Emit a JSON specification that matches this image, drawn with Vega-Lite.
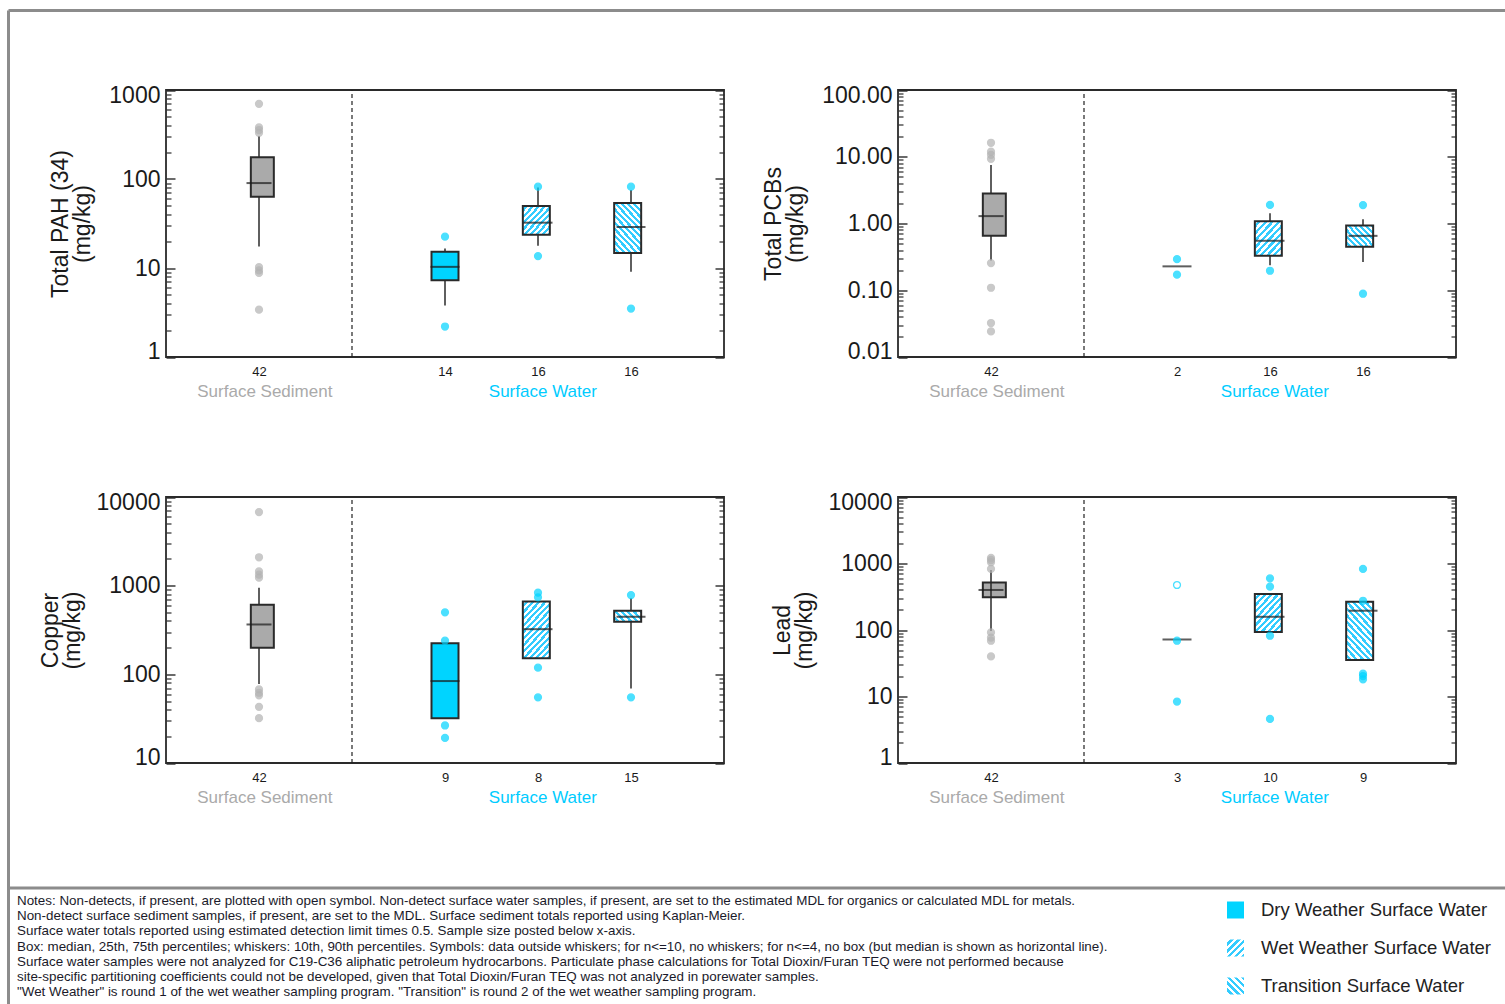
{
"$schema":"https://vega.github.io/schema/vega-lite/v6.json",
"width":1496.5,"height":993.5,
"padding":{"left":8.5,"top":10.5,"right":0,"bottom":0},
"autosize":{"type":"none"},
"config":{"view":{"stroke":null},"font":"Liberation Sans","axis":{"labelFont":"Liberation Sans","titleFont":"Liberation Sans","titleFontWeight":"normal","labelColor":"#1a1a1a","titleColor":"#1a1a1a","grid":false}},
"resolve":{"scale":{"x":"independent","y":"independent","size":"independent"}},
"datasets":{
"boxes":[
{"panel":"PAH","grp":"Sediment","pos":1,"n":42,"q1":63,"med":90,"q3":175,"lo":17.4,"hi":304},
{"panel":"PAH","grp":"Dry","pos":3,"n":14,"q1":7.3,"med":10.3,"q3":15.2,"lo":3.8,"hi":16.6},
{"panel":"PAH","grp":"Wet","pos":4,"n":16,"q1":23.7,"med":32.3,"q3":49.8,"lo":17.8,"hi":80},
{"panel":"PAH","grp":"Transition","pos":5,"n":16,"q1":14.7,"med":28.9,"q3":53.8,"lo":9.1,"hi":75},
{"panel":"PCB","grp":"Sediment","pos":1,"n":42,"q1":0.653,"med":1.29,"q3":2.81,"lo":0.28,"hi":7.5},
{"panel":"PCB","grp":"Dry","pos":3,"n":2,"q1":null,"med":0.228,"q3":null,"lo":null,"hi":null},
{"panel":"PCB","grp":"Wet","pos":4,"n":16,"q1":0.328,"med":0.551,"q3":1.08,"lo":0.236,"hi":1.43},
{"panel":"PCB","grp":"Transition","pos":5,"n":16,"q1":0.448,"med":0.653,"q3":0.933,"lo":0.264,"hi":1.16},
{"panel":"Cu","grp":"Sediment","pos":1,"n":42,"q1":200,"med":365,"q3":610,"lo":78,"hi":950},
{"panel":"Cu","grp":"Dry","pos":3,"n":9,"q1":32,"med":84,"q3":224,"lo":null,"hi":null},
{"panel":"Cu","grp":"Wet","pos":4,"n":8,"q1":152,"med":323,"q3":665,"lo":null,"hi":null},
{"panel":"Cu","grp":"Transition","pos":5,"n":15,"q1":391,"med":446,"q3":521,"lo":69,"hi":719},
{"panel":"Pb","grp":"Sediment","pos":1,"n":42,"q1":310,"med":400,"q3":520,"lo":97,"hi":800},
{"panel":"Pb","grp":"Dry","pos":3,"n":3,"q1":null,"med":72,"q3":null,"lo":null,"hi":null},
{"panel":"Pb","grp":"Wet","pos":4,"n":10,"q1":93,"med":158,"q3":347,"lo":null,"hi":null},
{"panel":"Pb","grp":"Transition","pos":5,"n":9,"q1":35.5,"med":195,"q3":266,"lo":null,"hi":null}
],
"pts":[
{"panel":"PAH","grp":"Sediment","pos":1,"v":700,"nd":0},{"panel":"PAH","grp":"Sediment","pos":1,"v":380,"nd":0},{"panel":"PAH","grp":"Sediment","pos":1,"v":355,"nd":0},{"panel":"PAH","grp":"Sediment","pos":1,"v":330,"nd":0},{"panel":"PAH","grp":"Sediment","pos":1,"v":10.2,"nd":0},{"panel":"PAH","grp":"Sediment","pos":1,"v":9.4,"nd":0},{"panel":"PAH","grp":"Sediment","pos":1,"v":8.8,"nd":0},{"panel":"PAH","grp":"Sediment","pos":1,"v":3.4,"nd":0},
{"panel":"PAH","grp":"Dry","pos":3,"v":22.5,"nd":0},{"panel":"PAH","grp":"Dry","pos":3,"v":2.2,"nd":0},
{"panel":"PAH","grp":"Wet","pos":4,"v":82,"nd":0},{"panel":"PAH","grp":"Wet","pos":4,"v":13.6,"nd":0},
{"panel":"PAH","grp":"Transition","pos":5,"v":82,"nd":0},{"panel":"PAH","grp":"Transition","pos":5,"v":3.5,"nd":0},
{"panel":"PCB","grp":"Sediment","pos":1,"v":16.2,"nd":0},{"panel":"PCB","grp":"Sediment","pos":1,"v":11.9,"nd":0},{"panel":"PCB","grp":"Sediment","pos":1,"v":10.7,"nd":0},{"panel":"PCB","grp":"Sediment","pos":1,"v":9.3,"nd":0},{"panel":"PCB","grp":"Sediment","pos":1,"v":0.255,"nd":0},{"panel":"PCB","grp":"Sediment","pos":1,"v":0.109,"nd":0},{"panel":"PCB","grp":"Sediment","pos":1,"v":0.0323,"nd":0},{"panel":"PCB","grp":"Sediment","pos":1,"v":0.0242,"nd":0},
{"panel":"PCB","grp":"Dry","pos":3,"v":0.292,"nd":0},{"panel":"PCB","grp":"Dry","pos":3,"v":0.171,"nd":0},
{"panel":"PCB","grp":"Wet","pos":4,"v":1.9,"nd":0},{"panel":"PCB","grp":"Wet","pos":4,"v":0.196,"nd":0},
{"panel":"PCB","grp":"Transition","pos":5,"v":1.89,"nd":0},{"panel":"PCB","grp":"Transition","pos":5,"v":0.0887,"nd":0},
{"panel":"Cu","grp":"Sediment","pos":1,"v":6760,"nd":0},{"panel":"Cu","grp":"Sediment","pos":1,"v":2090,"nd":0},{"panel":"Cu","grp":"Sediment","pos":1,"v":1450,"nd":0},{"panel":"Cu","grp":"Sediment","pos":1,"v":1330,"nd":0},{"panel":"Cu","grp":"Sediment","pos":1,"v":1230,"nd":0},{"panel":"Cu","grp":"Sediment","pos":1,"v":67.6,"nd":0},{"panel":"Cu","grp":"Sediment","pos":1,"v":62,"nd":0},{"panel":"Cu","grp":"Sediment","pos":1,"v":58,"nd":0},{"panel":"Cu","grp":"Sediment","pos":1,"v":43,"nd":0},{"panel":"Cu","grp":"Sediment","pos":1,"v":32,"nd":0},
{"panel":"Cu","grp":"Dry","pos":3,"v":500,"nd":0},{"panel":"Cu","grp":"Dry","pos":3,"v":240,"nd":0},{"panel":"Cu","grp":"Dry","pos":3,"v":26.5,"nd":0},{"panel":"Cu","grp":"Dry","pos":3,"v":19.2,"nd":0},
{"panel":"Cu","grp":"Wet","pos":4,"v":833,"nd":0},{"panel":"Cu","grp":"Wet","pos":4,"v":738,"nd":0},{"panel":"Cu","grp":"Wet","pos":4,"v":119,"nd":0},{"panel":"Cu","grp":"Wet","pos":4,"v":55,"nd":0},
{"panel":"Cu","grp":"Transition","pos":5,"v":784,"nd":0},{"panel":"Cu","grp":"Transition","pos":5,"v":55,"nd":0},
{"panel":"Pb","grp":"Sediment","pos":1,"v":1215,"nd":0},{"panel":"Pb","grp":"Sediment","pos":1,"v":1130,"nd":0},{"panel":"Pb","grp":"Sediment","pos":1,"v":1045,"nd":0},{"panel":"Pb","grp":"Sediment","pos":1,"v":828,"nd":0},{"panel":"Pb","grp":"Sediment","pos":1,"v":92,"nd":0},{"panel":"Pb","grp":"Sediment","pos":1,"v":77,"nd":0},{"panel":"Pb","grp":"Sediment","pos":1,"v":69,"nd":0},{"panel":"Pb","grp":"Sediment","pos":1,"v":40,"nd":0},
{"panel":"Pb","grp":"Dry","pos":3,"v":475,"nd":1},{"panel":"Pb","grp":"Dry","pos":3,"v":69,"nd":0},{"panel":"Pb","grp":"Dry","pos":3,"v":8.4,"nd":0},
{"panel":"Pb","grp":"Wet","pos":4,"v":598,"nd":0},{"panel":"Pb","grp":"Wet","pos":4,"v":449,"nd":0},{"panel":"Pb","grp":"Wet","pos":4,"v":82,"nd":0},{"panel":"Pb","grp":"Wet","pos":4,"v":4.6,"nd":0},
{"panel":"Pb","grp":"Transition","pos":5,"v":828,"nd":0},{"panel":"Pb","grp":"Transition","pos":5,"v":275,"nd":0},{"panel":"Pb","grp":"Transition","pos":5,"v":22,"nd":0},{"panel":"Pb","grp":"Transition","pos":5,"v":20.3,"nd":0},{"panel":"Pb","grp":"Transition","pos":5,"v":18.1,"nd":0}
],
"notes":[
{"i":1,"t":"Notes: Non-detects, if present, are plotted with open symbol. Non-detect surface water samples, if present, are set to the estimated MDL for organics or calculated MDL for metals."},
{"i":2,"t":"Non-detect surface sediment samples, if present, are set to the MDL. Surface sediment totals reported using Kaplan-Meier."},
{"i":3,"t":"Surface water totals reported using estimated detection limit times 0.5. Sample size posted below x-axis."},
{"i":4,"t":"Box: median, 25th, 75th percentiles; whiskers: 10th, 90th percentiles. Symbols: data outside whiskers; for n<=10, no whiskers; for n<=4, no box (but median is shown as horizontal line)."},
{"i":5,"t":"Surface water samples were not analyzed for C19-C36 aliphatic petroleum hydrocarbons. Particulate phase calculations for Total Dioxin/Furan TEQ were not performed because"},
{"i":6,"t":"site-specific partitioning coefficients could not be developed, given that Total Dioxin/Furan TEQ was not analyzed in porewater samples."},
{"i":7,"t":"\"Wet Weather\" is round 1 of the wet weather sampling program. \"Transition\" is round 2 of the wet weather sampling program."}
],
"legend":[
{"cat":"Dry Weather Surface Water","grp":"Dry"},
{"cat":"Wet Weather Surface Water","grp":"Wet"},
{"cat":"Transition Surface Water","grp":"Transition"}
]
},
"layer":[
{"data":{"values":[{}]},"mark":{"type":"rule","color":"#8c8c8c","strokeWidth":3},"encoding":{"y":{"datum":0,"type":"quantitative","scale":{"domain":[0,1],"range":[0,877.5]},"axis":null}}},
{"data":{"values":[{}]},"mark":{"type":"rule","color":"#8c8c8c","strokeWidth":3},"encoding":{"y":{"datum":1,"type":"quantitative","scale":{"domain":[0,1],"range":[0,877.5]},"axis":null}}},
{"data":{"values":[{}]},"mark":{"type":"rule","color":"#8c8c8c","strokeWidth":3},"encoding":{"x":{"datum":0,"type":"quantitative","scale":{"domain":[0,1],"range":[0,1496.5]},"axis":null}}},
{"data":{"name":"notes"},"mark":{"type":"text","align":"left","baseline":"middle","font":"Liberation Sans","fontSize":13.4,"color":"#1a1a2a"},"encoding":{"x":{"datum":0,"type":"quantitative","scale":{"domain":[0,1],"range":[8.5,1400]},"axis":null},"y":{"field":"i","type":"quantitative","scale":{"domain":[1,7],"range":[890.5,981.5]},"axis":null},"text":{"field":"t"}}},
{"data":{"name":"legend"},"mark":{"type":"square","size":289,"filled":true,"strokeWidth":0,"opacity":1},"encoding":{"x":{"datum":0,"type":"quantitative","scale":{"domain":[0,1],"range":[1227,1400]},"axis":null},"y":{"field":"cat","type":"ordinal","sort":null,"scale":{"type":"point","domain":["Dry Weather Surface Water","Wet Weather Surface Water","Transition Surface Water"],"range":[899.5,975.5],"padding":0},"axis":null},
"fill":{"condition":[{"test":"datum.grp=='Wet'","value":{"gradient":"linear","x1":0,"y1":0,"x2":1,"y2":1,"stops":[{"offset":0,"color":"#fff"},{"offset":0.1,"color":"#fff"},{"offset":0.1,"color":"#3cf"},{"offset":0.2,"color":"#3cf"},{"offset":0.2,"color":"#fff"},{"offset":0.3,"color":"#fff"},{"offset":0.3,"color":"#3cf"},{"offset":0.4,"color":"#3cf"},{"offset":0.4,"color":"#fff"},{"offset":0.5,"color":"#fff"},{"offset":0.5,"color":"#3cf"},{"offset":0.6,"color":"#3cf"},{"offset":0.6,"color":"#fff"},{"offset":0.7,"color":"#fff"},{"offset":0.7,"color":"#3cf"},{"offset":0.8,"color":"#3cf"},{"offset":0.8,"color":"#fff"},{"offset":0.9,"color":"#fff"},{"offset":0.9,"color":"#3cf"},{"offset":1,"color":"#3cf"}]}},
{"test":"datum.grp=='Transition'","value":{"gradient":"linear","x1":0,"y1":1,"x2":1,"y2":0,"stops":[{"offset":0,"color":"#fff"},{"offset":0.1,"color":"#fff"},{"offset":0.1,"color":"#3cf"},{"offset":0.2,"color":"#3cf"},{"offset":0.2,"color":"#fff"},{"offset":0.3,"color":"#fff"},{"offset":0.3,"color":"#3cf"},{"offset":0.4,"color":"#3cf"},{"offset":0.4,"color":"#fff"},{"offset":0.5,"color":"#fff"},{"offset":0.5,"color":"#3cf"},{"offset":0.6,"color":"#3cf"},{"offset":0.6,"color":"#fff"},{"offset":0.7,"color":"#fff"},{"offset":0.7,"color":"#3cf"},{"offset":0.8,"color":"#3cf"},{"offset":0.8,"color":"#fff"},{"offset":0.9,"color":"#fff"},{"offset":0.9,"color":"#3cf"},{"offset":1,"color":"#3cf"}]}}],"value":"#00d4ff"}}},
{"data":{"name":"legend"},"mark":{"type":"text","align":"left","baseline":"middle","font":"Liberation Sans","fontSize":18.5,"color":"#222"},"encoding":{"x":{"datum":0,"type":"quantitative","scale":{"domain":[0,1],"range":[1252.5,1400]},"axis":null},"y":{"field":"cat","type":"ordinal","sort":null,"scale":{"type":"point","domain":["Dry Weather Surface Water","Wet Weather Surface Water","Transition Surface Water"],"range":[899.5,975.5],"padding":0},"axis":null},"text":{"field":"cat"}}},

{"data":{"values":[{}]},"mark":{"type":"rect","fill":"transparent","stroke":"#2a2a2a","strokeWidth":1.8},"encoding":{
"x":{"datum":0,"type":"quantitative","scale":{"domain":[0,6],"range":[157.5,715.5],"nice":false,"zero":false},"axis":{"orient":"bottom","offset":-647,"values":[1,3,4,5],"labelExpr":"datum.value==1?'42':datum.value==3?'14':'16'","ticks":false,"domain":false,"labelFontSize":13,"labelPadding":8,"labelFlush":false,"title":null}},
"x2":{"datum":6},
"y":{"datum":1,"type":"quantitative","scale":{"type":"log","domain":[1,1000],"range":[346.5,79.5],"nice":false},"axis":{"orient":"left","offset":-157.5,"values":[1,10,100,1000],"format":"d","ticks":false,"domain":false,"labelFontSize":23,"labelPadding":6,"labelFlush":true,"labelFlushOffset":6,"title":["Total PAH (34)","(mg/kg)"],"titleFontSize":23,"titleLineHeight":22,"titlePadding":14}},
"y2":{"datum":1000}}},
{"data":{"values":[{}]},"mark":{"type":"rule","strokeDash":[4,3],"strokeWidth":1.2,"color":"#222"},"encoding":{"x":{"datum":2,"type":"quantitative","scale":{"domain":[0,6],"range":[157.5,715.5],"nice":false,"zero":false},"axis":null},"y":{"datum":1,"type":"quantitative","scale":{"type":"log","domain":[1,1000],"range":[346.5,79.5],"nice":false},"axis":null},"y2":{"datum":1000}}},
{"data":{"name":"boxes"},"transform":[{"filter":"datum.panel=='PAH' && isValid(datum.lo)"}],"mark":{"type":"rule","strokeWidth":1.5,"color":"#2a2a2a"},"encoding":{"x":{"field":"pos","type":"quantitative","scale":{"domain":[0,6],"range":[157.5,715.5],"nice":false,"zero":false},"axis":null},"y":{"field":"lo","type":"quantitative","scale":{"type":"log","domain":[1,1000],"range":[346.5,79.5],"nice":false},"axis":{"orient":"left","offset":-157.5,"values":[2,3,4,5,6,7,8,9,20,30,40,50,60,70,80,90,200,300,400,500,600,700,800,900],"labels":false,"domain":false,"ticks":true,"tickSize":-5,"tickWidth":1.2,"tickColor":"#2a2a2a","title":null}},"y2":{"field":"hi"}}},
{"data":{"name":"boxes"},"transform":[{"filter":"datum.panel=='PAH' && isValid(datum.q1)"}],"mark":{"type":"bar","stroke":"#2a2a2a","strokeWidth":2},"encoding":{"x":{"field":"pos","type":"quantitative","scale":{"domain":[0,6],"range":[157.5,715.5],"nice":false,"zero":false},"axis":{"orient":"bottom","offset":-647,"values":[1,4],"labelExpr":"datum.value==1?'Surface Sediment':'Surface Water'","labelColor":{"condition":{"test":"datum.value==1","value":"#aaaaaa"},"value":"#00ccff"},"labelOffset":{"condition":{"test":"datum.value==1","value":2},"value":6},"ticks":false,"domain":false,"labelFontSize":17,"labelPadding":26,"labelFlush":false,"title":null}},"y":{"field":"q1","type":"quantitative","scale":{"type":"log","domain":[1,1000],"range":[346.5,79.5],"nice":false},"axis":{"orient":"left","offset":-157.5,"values":[1,10,100,1000],"labels":false,"domain":false,"ticks":true,"tickSize":-9,"tickWidth":1.4,"tickColor":"#2a2a2a","title":null}},"y2":{"field":"q3"},"size":{"condition":{"test":"datum.grp=='Sediment'","value":23},"value":27},
"fill":{"condition":[{"test":"datum.grp=='Sediment'","value":"#aaaaaa"},{"test":"datum.grp=='Dry'","value":"#00d4ff"},
{"test":"datum.grp=='Wet'","value":{"gradient":"linear","x1":0,"y1":0,"x2":1,"y2":1,"stops":[{"offset":0,"color":"#fff"},{"offset":0.0556,"color":"#fff"},{"offset":0.0556,"color":"#3cf"},{"offset":0.1111,"color":"#3cf"},{"offset":0.1111,"color":"#fff"},{"offset":0.1667,"color":"#fff"},{"offset":0.1667,"color":"#3cf"},{"offset":0.2222,"color":"#3cf"},{"offset":0.2222,"color":"#fff"},{"offset":0.2778,"color":"#fff"},{"offset":0.2778,"color":"#3cf"},{"offset":0.3333,"color":"#3cf"},{"offset":0.3333,"color":"#fff"},{"offset":0.3889,"color":"#fff"},{"offset":0.3889,"color":"#3cf"},{"offset":0.4444,"color":"#3cf"},{"offset":0.4444,"color":"#fff"},{"offset":0.5,"color":"#fff"},{"offset":0.5,"color":"#3cf"},{"offset":0.5556,"color":"#3cf"},{"offset":0.5556,"color":"#fff"},{"offset":0.6111,"color":"#fff"},{"offset":0.6111,"color":"#3cf"},{"offset":0.6667,"color":"#3cf"},{"offset":0.6667,"color":"#fff"},{"offset":0.7222,"color":"#fff"},{"offset":0.7222,"color":"#3cf"},{"offset":0.7778,"color":"#3cf"},{"offset":0.7778,"color":"#fff"},{"offset":0.8333,"color":"#fff"},{"offset":0.8333,"color":"#3cf"},{"offset":0.8889,"color":"#3cf"},{"offset":0.8889,"color":"#fff"},{"offset":0.9444,"color":"#fff"},{"offset":0.9444,"color":"#3cf"},{"offset":1,"color":"#3cf"}]}}],
"value":{"gradient":"linear","x1":0,"y1":1,"x2":0.6845,"y2":-0.1826,"stops":[{"offset":0,"color":"#fff"},{"offset":0.0417,"color":"#fff"},{"offset":0.0417,"color":"#3cf"},{"offset":0.0833,"color":"#3cf"},{"offset":0.0833,"color":"#fff"},{"offset":0.125,"color":"#fff"},{"offset":0.125,"color":"#3cf"},{"offset":0.1667,"color":"#3cf"},{"offset":0.1667,"color":"#fff"},{"offset":0.2083,"color":"#fff"},{"offset":0.2083,"color":"#3cf"},{"offset":0.25,"color":"#3cf"},{"offset":0.25,"color":"#fff"},{"offset":0.2917,"color":"#fff"},{"offset":0.2917,"color":"#3cf"},{"offset":0.3333,"color":"#3cf"},{"offset":0.3333,"color":"#fff"},{"offset":0.375,"color":"#fff"},{"offset":0.375,"color":"#3cf"},{"offset":0.4167,"color":"#3cf"},{"offset":0.4167,"color":"#fff"},{"offset":0.4583,"color":"#fff"},{"offset":0.4583,"color":"#3cf"},{"offset":0.5,"color":"#3cf"},{"offset":0.5,"color":"#fff"},{"offset":0.5417,"color":"#fff"},{"offset":0.5417,"color":"#3cf"},{"offset":0.5833,"color":"#3cf"},{"offset":0.5833,"color":"#fff"},{"offset":0.625,"color":"#fff"},{"offset":0.625,"color":"#3cf"},{"offset":0.6667,"color":"#3cf"},{"offset":0.6667,"color":"#fff"},{"offset":0.7083,"color":"#fff"},{"offset":0.7083,"color":"#3cf"},{"offset":0.75,"color":"#3cf"},{"offset":0.75,"color":"#fff"},{"offset":0.7917,"color":"#fff"},{"offset":0.7917,"color":"#3cf"},{"offset":0.8333,"color":"#3cf"},{"offset":0.8333,"color":"#fff"},{"offset":0.875,"color":"#fff"},{"offset":0.875,"color":"#3cf"},{"offset":0.9167,"color":"#3cf"},{"offset":0.9167,"color":"#fff"},{"offset":0.9583,"color":"#fff"},{"offset":0.9583,"color":"#3cf"},{"offset":1,"color":"#3cf"}]}}}},
{"data":{"name":"boxes"},"transform":[{"filter":"datum.panel=='PAH'"}],"mark":{"type":"tick","orient":"horizontal","thickness":2,"color":"#1a1a1a"},"encoding":{"x":{"field":"pos","type":"quantitative","scale":{"domain":[0,6],"range":[157.5,715.5],"nice":false,"zero":false},"axis":null},"y":{"field":"med","type":"quantitative","scale":{"type":"log","domain":[1,1000],"range":[346.5,79.5],"nice":false},"axis":{"orient":"right","offset":-781,"values":[1,10,100,1000],"labels":false,"domain":false,"ticks":true,"tickSize":-9,"tickWidth":1.4,"tickColor":"#2a2a2a","title":null}},"size":{"condition":{"test":"datum.grp=='Sediment'","value":25},"value":29}}},
{"data":{"name":"pts"},"transform":[{"filter":"datum.panel=='PAH'"}],"mark":{"type":"point","shape":"circle","filled":true,"size":48,"strokeWidth":1.3},"encoding":{"x":{"field":"pos","type":"quantitative","scale":{"domain":[0,6],"range":[157.5,715.5],"nice":false,"zero":false},"axis":null},"y":{"field":"v","type":"quantitative","scale":{"type":"log","domain":[1,1000],"range":[346.5,79.5],"nice":false},"axis":{"orient":"right","offset":-781,"values":[2,3,4,5,6,7,8,9,20,30,40,50,60,70,80,90,200,300,400,500,600,700,800,900],"labels":false,"domain":false,"ticks":true,"tickSize":-5,"tickWidth":1.2,"tickColor":"#2a2a2a","title":null}},"fill":{"condition":[{"test":"datum.nd==1","value":"#ffffff"},{"test":"datum.grp=='Sediment'","value":"#b3b3b3"}],"value":"#00d4ff"},"stroke":{"condition":{"test":"datum.grp=='Sediment'","value":"#b3b3b3"},"value":"#00d4ff"}}},

{"data":{"values":[{}]},"mark":{"type":"rect","fill":"transparent","stroke":"#2a2a2a","strokeWidth":1.8},"encoding":{
"x":{"datum":0,"type":"quantitative","scale":{"domain":[0,6],"range":[889.5,1447.5],"nice":false,"zero":false},"axis":{"orient":"bottom","offset":-647,"values":[1,3,4,5],"labelExpr":"datum.value==1?'42':datum.value==3?'2':'16'","ticks":false,"domain":false,"labelFontSize":13,"labelPadding":8,"labelFlush":false,"title":null}},
"x2":{"datum":6},
"y":{"datum":0.01,"type":"quantitative","scale":{"type":"log","domain":[0.01,100],"range":[346.5,79.5],"nice":false},"axis":{"orient":"left","offset":-889.5,"values":[0.01,0.1,1,10,100],"format":".2f","ticks":false,"domain":false,"labelFontSize":23,"labelPadding":6,"labelFlush":true,"labelFlushOffset":6,"title":["Total PCBs","(mg/kg)"],"titleFontSize":23,"titleLineHeight":22,"titlePadding":14}},
"y2":{"datum":100}}},
{"data":{"values":[{}]},"mark":{"type":"rule","strokeDash":[4,3],"strokeWidth":1.2,"color":"#222"},"encoding":{"x":{"datum":2,"type":"quantitative","scale":{"domain":[0,6],"range":[889.5,1447.5],"nice":false,"zero":false},"axis":null},"y":{"datum":0.01,"type":"quantitative","scale":{"type":"log","domain":[0.01,100],"range":[346.5,79.5],"nice":false},"axis":null},"y2":{"datum":100}}},
{"data":{"name":"boxes"},"transform":[{"filter":"datum.panel=='PCB' && isValid(datum.lo)"}],"mark":{"type":"rule","strokeWidth":1.5,"color":"#2a2a2a"},"encoding":{"x":{"field":"pos","type":"quantitative","scale":{"domain":[0,6],"range":[889.5,1447.5],"nice":false,"zero":false},"axis":null},"y":{"field":"lo","type":"quantitative","scale":{"type":"log","domain":[0.01,100],"range":[346.5,79.5],"nice":false},"axis":{"orient":"left","offset":-889.5,"values":[0.02,0.03,0.04,0.05,0.06,0.07,0.08,0.09,0.2,0.3,0.4,0.5,0.6,0.7,0.8,0.9,2,3,4,5,6,7,8,9,20,30,40,50,60,70,80,90],"labels":false,"domain":false,"ticks":true,"tickSize":-5,"tickWidth":1.2,"tickColor":"#2a2a2a","title":null}},"y2":{"field":"hi"}}},
{"data":{"name":"boxes"},"transform":[{"filter":"datum.panel=='PCB' && isValid(datum.q1)"}],"mark":{"type":"bar","stroke":"#2a2a2a","strokeWidth":2},"encoding":{"x":{"field":"pos","type":"quantitative","scale":{"domain":[0,6],"range":[889.5,1447.5],"nice":false,"zero":false},"axis":{"orient":"bottom","offset":-647,"values":[1,4],"labelExpr":"datum.value==1?'Surface Sediment':'Surface Water'","labelColor":{"condition":{"test":"datum.value==1","value":"#aaaaaa"},"value":"#00ccff"},"labelOffset":{"condition":{"test":"datum.value==1","value":2},"value":6},"ticks":false,"domain":false,"labelFontSize":17,"labelPadding":26,"labelFlush":false,"title":null}},"y":{"field":"q1","type":"quantitative","scale":{"type":"log","domain":[0.01,100],"range":[346.5,79.5],"nice":false},"axis":{"orient":"left","offset":-889.5,"values":[0.01,0.1,1,10,100],"labels":false,"domain":false,"ticks":true,"tickSize":-9,"tickWidth":1.4,"tickColor":"#2a2a2a","title":null}},"y2":{"field":"q3"},"size":{"condition":{"test":"datum.grp=='Sediment'","value":23},"value":27},
"fill":{"condition":[{"test":"datum.grp=='Sediment'","value":"#aaaaaa"},{"test":"datum.grp=='Dry'","value":"#00d4ff"},
{"test":"datum.grp=='Wet'","value":{"gradient":"linear","x1":0,"y1":0,"x2":0.9067,"y2":1.0787,"stops":[{"offset":0,"color":"#fff"},{"offset":0.0556,"color":"#fff"},{"offset":0.0556,"color":"#3cf"},{"offset":0.1111,"color":"#3cf"},{"offset":0.1111,"color":"#fff"},{"offset":0.1667,"color":"#fff"},{"offset":0.1667,"color":"#3cf"},{"offset":0.2222,"color":"#3cf"},{"offset":0.2222,"color":"#fff"},{"offset":0.2778,"color":"#fff"},{"offset":0.2778,"color":"#3cf"},{"offset":0.3333,"color":"#3cf"},{"offset":0.3333,"color":"#fff"},{"offset":0.3889,"color":"#fff"},{"offset":0.3889,"color":"#3cf"},{"offset":0.4444,"color":"#3cf"},{"offset":0.4444,"color":"#fff"},{"offset":0.5,"color":"#fff"},{"offset":0.5,"color":"#3cf"},{"offset":0.5556,"color":"#3cf"},{"offset":0.5556,"color":"#fff"},{"offset":0.6111,"color":"#fff"},{"offset":0.6111,"color":"#3cf"},{"offset":0.6667,"color":"#3cf"},{"offset":0.6667,"color":"#fff"},{"offset":0.7222,"color":"#fff"},{"offset":0.7222,"color":"#3cf"},{"offset":0.7778,"color":"#3cf"},{"offset":0.7778,"color":"#fff"},{"offset":0.8333,"color":"#fff"},{"offset":0.8333,"color":"#3cf"},{"offset":0.8889,"color":"#3cf"},{"offset":0.8889,"color":"#fff"},{"offset":0.9444,"color":"#fff"},{"offset":0.9444,"color":"#3cf"},{"offset":1,"color":"#3cf"}]}}],
"value":{"gradient":"linear","x1":0,"y1":1,"x2":1.1267,"y2":0.1725,"stops":[{"offset":0,"color":"#fff"},{"offset":0.0625,"color":"#fff"},{"offset":0.0625,"color":"#3cf"},{"offset":0.125,"color":"#3cf"},{"offset":0.125,"color":"#fff"},{"offset":0.1875,"color":"#fff"},{"offset":0.1875,"color":"#3cf"},{"offset":0.25,"color":"#3cf"},{"offset":0.25,"color":"#fff"},{"offset":0.3125,"color":"#fff"},{"offset":0.3125,"color":"#3cf"},{"offset":0.375,"color":"#3cf"},{"offset":0.375,"color":"#fff"},{"offset":0.4375,"color":"#fff"},{"offset":0.4375,"color":"#3cf"},{"offset":0.5,"color":"#3cf"},{"offset":0.5,"color":"#fff"},{"offset":0.5625,"color":"#fff"},{"offset":0.5625,"color":"#3cf"},{"offset":0.625,"color":"#3cf"},{"offset":0.625,"color":"#fff"},{"offset":0.6875,"color":"#fff"},{"offset":0.6875,"color":"#3cf"},{"offset":0.75,"color":"#3cf"},{"offset":0.75,"color":"#fff"},{"offset":0.8125,"color":"#fff"},{"offset":0.8125,"color":"#3cf"},{"offset":0.875,"color":"#3cf"},{"offset":0.875,"color":"#fff"},{"offset":0.9375,"color":"#fff"},{"offset":0.9375,"color":"#3cf"},{"offset":1,"color":"#3cf"}]}}}},
{"data":{"name":"boxes"},"transform":[{"filter":"datum.panel=='PCB'"}],"mark":{"type":"tick","orient":"horizontal","thickness":2,"color":"#1a1a1a"},"encoding":{"x":{"field":"pos","type":"quantitative","scale":{"domain":[0,6],"range":[889.5,1447.5],"nice":false,"zero":false},"axis":null},"y":{"field":"med","type":"quantitative","scale":{"type":"log","domain":[0.01,100],"range":[346.5,79.5],"nice":false},"axis":{"orient":"right","offset":-49,"values":[0.01,0.1,1,10,100],"labels":false,"domain":false,"ticks":true,"tickSize":-9,"tickWidth":1.4,"tickColor":"#2a2a2a","title":null}},"size":{"condition":{"test":"datum.grp=='Sediment'","value":25},"value":29}}},
{"data":{"name":"pts"},"transform":[{"filter":"datum.panel=='PCB'"}],"mark":{"type":"point","shape":"circle","filled":true,"size":48,"strokeWidth":1.3},"encoding":{"x":{"field":"pos","type":"quantitative","scale":{"domain":[0,6],"range":[889.5,1447.5],"nice":false,"zero":false},"axis":null},"y":{"field":"v","type":"quantitative","scale":{"type":"log","domain":[0.01,100],"range":[346.5,79.5],"nice":false},"axis":{"orient":"right","offset":-49,"values":[0.02,0.03,0.04,0.05,0.06,0.07,0.08,0.09,0.2,0.3,0.4,0.5,0.6,0.7,0.8,0.9,2,3,4,5,6,7,8,9,20,30,40,50,60,70,80,90],"labels":false,"domain":false,"ticks":true,"tickSize":-5,"tickWidth":1.2,"tickColor":"#2a2a2a","title":null}},"fill":{"condition":[{"test":"datum.nd==1","value":"#ffffff"},{"test":"datum.grp=='Sediment'","value":"#b3b3b3"}],"value":"#00d4ff"},"stroke":{"condition":{"test":"datum.grp=='Sediment'","value":"#b3b3b3"},"value":"#00d4ff"}}},

{"data":{"values":[{}]},"mark":{"type":"rect","fill":"transparent","stroke":"#2a2a2a","strokeWidth":1.8},"encoding":{
"x":{"datum":0,"type":"quantitative","scale":{"domain":[0,6],"range":[157.5,715.5],"nice":false,"zero":false},"axis":{"orient":"bottom","offset":-241,"values":[1,3,4,5],"labelExpr":"datum.value==1?'42':datum.value==3?'9':datum.value==4?'8':'15'","ticks":false,"domain":false,"labelFontSize":13,"labelPadding":8,"labelFlush":false,"title":null}},
"x2":{"datum":6},
"y":{"datum":10,"type":"quantitative","scale":{"type":"log","domain":[10,10000],"range":[752.5,486.5],"nice":false},"axis":{"orient":"left","offset":-157.5,"values":[10,100,1000,10000],"format":"d","ticks":false,"domain":false,"labelFontSize":23,"labelPadding":6,"labelFlush":true,"labelFlushOffset":6,"title":["Copper","(mg/kg)"],"titleFontSize":23,"titleLineHeight":22,"titlePadding":12}},
"y2":{"datum":10000}}},
{"data":{"values":[{}]},"mark":{"type":"rule","strokeDash":[4,3],"strokeWidth":1.2,"color":"#222"},"encoding":{"x":{"datum":2,"type":"quantitative","scale":{"domain":[0,6],"range":[157.5,715.5],"nice":false,"zero":false},"axis":null},"y":{"datum":10,"type":"quantitative","scale":{"type":"log","domain":[10,10000],"range":[752.5,486.5],"nice":false},"axis":null},"y2":{"datum":10000}}},
{"data":{"name":"boxes"},"transform":[{"filter":"datum.panel=='Cu' && isValid(datum.lo)"}],"mark":{"type":"rule","strokeWidth":1.5,"color":"#2a2a2a"},"encoding":{"x":{"field":"pos","type":"quantitative","scale":{"domain":[0,6],"range":[157.5,715.5],"nice":false,"zero":false},"axis":null},"y":{"field":"lo","type":"quantitative","scale":{"type":"log","domain":[10,10000],"range":[752.5,486.5],"nice":false},"axis":{"orient":"left","offset":-157.5,"values":[20,30,40,50,60,70,80,90,200,300,400,500,600,700,800,900,2000,3000,4000,5000,6000,7000,8000,9000],"labels":false,"domain":false,"ticks":true,"tickSize":-5,"tickWidth":1.2,"tickColor":"#2a2a2a","title":null}},"y2":{"field":"hi"}}},
{"data":{"name":"boxes"},"transform":[{"filter":"datum.panel=='Cu' && isValid(datum.q1)"}],"mark":{"type":"bar","stroke":"#2a2a2a","strokeWidth":2},"encoding":{"x":{"field":"pos","type":"quantitative","scale":{"domain":[0,6],"range":[157.5,715.5],"nice":false,"zero":false},"axis":{"orient":"bottom","offset":-241,"values":[1,4],"labelExpr":"datum.value==1?'Surface Sediment':'Surface Water'","labelColor":{"condition":{"test":"datum.value==1","value":"#aaaaaa"},"value":"#00ccff"},"labelOffset":{"condition":{"test":"datum.value==1","value":2},"value":6},"ticks":false,"domain":false,"labelFontSize":17,"labelPadding":26,"labelFlush":false,"title":null}},"y":{"field":"q1","type":"quantitative","scale":{"type":"log","domain":[10,10000],"range":[752.5,486.5],"nice":false},"axis":{"orient":"left","offset":-157.5,"values":[10,100,1000,10000],"labels":false,"domain":false,"ticks":true,"tickSize":-9,"tickWidth":1.4,"tickColor":"#2a2a2a","title":null}},"y2":{"field":"q3"},"size":{"condition":{"test":"datum.grp=='Sediment'","value":23},"value":27},
"fill":{"condition":[{"test":"datum.grp=='Sediment'","value":"#aaaaaa"},{"test":"datum.grp=='Dry'","value":"#00d4ff"},
{"test":"datum.grp=='Wet'","value":{"gradient":"linear","x1":0,"y1":0,"x2":0.6118,"y2":1.1983,"stops":[{"offset":0,"color":"#fff"},{"offset":0.0385,"color":"#fff"},{"offset":0.0385,"color":"#3cf"},{"offset":0.0769,"color":"#3cf"},{"offset":0.0769,"color":"#fff"},{"offset":0.1154,"color":"#fff"},{"offset":0.1154,"color":"#3cf"},{"offset":0.1538,"color":"#3cf"},{"offset":0.1538,"color":"#fff"},{"offset":0.1923,"color":"#fff"},{"offset":0.1923,"color":"#3cf"},{"offset":0.2308,"color":"#3cf"},{"offset":0.2308,"color":"#fff"},{"offset":0.2692,"color":"#fff"},{"offset":0.2692,"color":"#3cf"},{"offset":0.3077,"color":"#3cf"},{"offset":0.3077,"color":"#fff"},{"offset":0.3462,"color":"#fff"},{"offset":0.3462,"color":"#3cf"},{"offset":0.3846,"color":"#3cf"},{"offset":0.3846,"color":"#fff"},{"offset":0.4231,"color":"#fff"},{"offset":0.4231,"color":"#3cf"},{"offset":0.4615,"color":"#3cf"},{"offset":0.4615,"color":"#fff"},{"offset":0.5,"color":"#fff"},{"offset":0.5,"color":"#3cf"},{"offset":0.5385,"color":"#3cf"},{"offset":0.5385,"color":"#fff"},{"offset":0.5769,"color":"#fff"},{"offset":0.5769,"color":"#3cf"},{"offset":0.6154,"color":"#3cf"},{"offset":0.6154,"color":"#fff"},{"offset":0.6538,"color":"#fff"},{"offset":0.6538,"color":"#3cf"},{"offset":0.6923,"color":"#3cf"},{"offset":0.6923,"color":"#fff"},{"offset":0.7308,"color":"#fff"},{"offset":0.7308,"color":"#3cf"},{"offset":0.7692,"color":"#3cf"},{"offset":0.7692,"color":"#fff"},{"offset":0.8077,"color":"#fff"},{"offset":0.8077,"color":"#3cf"},{"offset":0.8462,"color":"#3cf"},{"offset":0.8462,"color":"#fff"},{"offset":0.8846,"color":"#fff"},{"offset":0.8846,"color":"#3cf"},{"offset":0.9231,"color":"#3cf"},{"offset":0.9231,"color":"#fff"},{"offset":0.9615,"color":"#fff"},{"offset":0.9615,"color":"#3cf"},{"offset":1,"color":"#3cf"}]}}],
"value":{"gradient":"linear","x1":0,"y1":1,"x2":1.2058,"y2":0.5426,"stops":[{"offset":0,"color":"#fff"},{"offset":0.0833,"color":"#fff"},{"offset":0.0833,"color":"#3cf"},{"offset":0.1667,"color":"#3cf"},{"offset":0.1667,"color":"#fff"},{"offset":0.25,"color":"#fff"},{"offset":0.25,"color":"#3cf"},{"offset":0.3333,"color":"#3cf"},{"offset":0.3333,"color":"#fff"},{"offset":0.4167,"color":"#fff"},{"offset":0.4167,"color":"#3cf"},{"offset":0.5,"color":"#3cf"},{"offset":0.5,"color":"#fff"},{"offset":0.5833,"color":"#fff"},{"offset":0.5833,"color":"#3cf"},{"offset":0.6667,"color":"#3cf"},{"offset":0.6667,"color":"#fff"},{"offset":0.75,"color":"#fff"},{"offset":0.75,"color":"#3cf"},{"offset":0.8333,"color":"#3cf"},{"offset":0.8333,"color":"#fff"},{"offset":0.9167,"color":"#fff"},{"offset":0.9167,"color":"#3cf"},{"offset":1,"color":"#3cf"}]}}}},
{"data":{"name":"boxes"},"transform":[{"filter":"datum.panel=='Cu'"}],"mark":{"type":"tick","orient":"horizontal","thickness":2,"color":"#1a1a1a"},"encoding":{"x":{"field":"pos","type":"quantitative","scale":{"domain":[0,6],"range":[157.5,715.5],"nice":false,"zero":false},"axis":null},"y":{"field":"med","type":"quantitative","scale":{"type":"log","domain":[10,10000],"range":[752.5,486.5],"nice":false},"axis":{"orient":"right","offset":-781,"values":[10,100,1000,10000],"labels":false,"domain":false,"ticks":true,"tickSize":-9,"tickWidth":1.4,"tickColor":"#2a2a2a","title":null}},"size":{"condition":{"test":"datum.grp=='Sediment'","value":25},"value":29}}},
{"data":{"name":"pts"},"transform":[{"filter":"datum.panel=='Cu'"}],"mark":{"type":"point","shape":"circle","filled":true,"size":48,"strokeWidth":1.3},"encoding":{"x":{"field":"pos","type":"quantitative","scale":{"domain":[0,6],"range":[157.5,715.5],"nice":false,"zero":false},"axis":null},"y":{"field":"v","type":"quantitative","scale":{"type":"log","domain":[10,10000],"range":[752.5,486.5],"nice":false},"axis":{"orient":"right","offset":-781,"values":[20,30,40,50,60,70,80,90,200,300,400,500,600,700,800,900,2000,3000,4000,5000,6000,7000,8000,9000],"labels":false,"domain":false,"ticks":true,"tickSize":-5,"tickWidth":1.2,"tickColor":"#2a2a2a","title":null}},"fill":{"condition":[{"test":"datum.nd==1","value":"#ffffff"},{"test":"datum.grp=='Sediment'","value":"#b3b3b3"}],"value":"#00d4ff"},"stroke":{"condition":{"test":"datum.grp=='Sediment'","value":"#b3b3b3"},"value":"#00d4ff"}}},

{"data":{"values":[{}]},"mark":{"type":"rect","fill":"transparent","stroke":"#2a2a2a","strokeWidth":1.8},"encoding":{
"x":{"datum":0,"type":"quantitative","scale":{"domain":[0,6],"range":[889.5,1447.5],"nice":false,"zero":false},"axis":{"orient":"bottom","offset":-241,"values":[1,3,4,5],"labelExpr":"datum.value==1?'42':datum.value==3?'3':datum.value==4?'10':'9'","ticks":false,"domain":false,"labelFontSize":13,"labelPadding":8,"labelFlush":false,"title":null}},
"x2":{"datum":6},
"y":{"datum":1,"type":"quantitative","scale":{"type":"log","domain":[1,10000],"range":[752.5,486.5],"nice":false},"axis":{"orient":"left","offset":-889.5,"values":[1,10,100,1000,10000],"format":"d","ticks":false,"domain":false,"labelFontSize":23,"labelPadding":6,"labelFlush":true,"labelFlushOffset":6,"title":["Lead","(mg/kg)"],"titleFontSize":23,"titleLineHeight":22,"titlePadding":12}},
"y2":{"datum":10000}}},
{"data":{"values":[{}]},"mark":{"type":"rule","strokeDash":[4,3],"strokeWidth":1.2,"color":"#222"},"encoding":{"x":{"datum":2,"type":"quantitative","scale":{"domain":[0,6],"range":[889.5,1447.5],"nice":false,"zero":false},"axis":null},"y":{"datum":1,"type":"quantitative","scale":{"type":"log","domain":[1,10000],"range":[752.5,486.5],"nice":false},"axis":null},"y2":{"datum":10000}}},
{"data":{"name":"boxes"},"transform":[{"filter":"datum.panel=='Pb' && isValid(datum.q1)"}],"mark":{"type":"bar","stroke":"#2a2a2a","strokeWidth":2},"encoding":{"x":{"field":"pos","type":"quantitative","scale":{"domain":[0,6],"range":[889.5,1447.5],"nice":false,"zero":false},"axis":{"orient":"bottom","offset":-241,"values":[1,4],"labelExpr":"datum.value==1?'Surface Sediment':'Surface Water'","labelColor":{"condition":{"test":"datum.value==1","value":"#aaaaaa"},"value":"#00ccff"},"labelOffset":{"condition":{"test":"datum.value==1","value":2},"value":6},"ticks":false,"domain":false,"labelFontSize":17,"labelPadding":26,"labelFlush":false,"title":null}},"y":{"field":"q1","type":"quantitative","scale":{"type":"log","domain":[1,10000],"range":[752.5,486.5],"nice":false},"axis":{"orient":"left","offset":-889.5,"values":[1,10,100,1000,10000],"labels":false,"domain":false,"ticks":true,"tickSize":-9,"tickWidth":1.4,"tickColor":"#2a2a2a","title":null}},"y2":{"field":"q3"},"size":{"condition":{"test":"datum.grp=='Sediment'","value":23},"value":27},
"fill":{"condition":[{"test":"datum.grp=='Sediment'","value":"#aaaaaa"},{"test":"datum.grp=='Dry'","value":"#00d4ff"},
{"test":"datum.grp=='Wet'","value":{"gradient":"linear","x1":0,"y1":0,"x2":0.8503,"y2":1.1142,"stops":[{"offset":0,"color":"#fff"},{"offset":0.05,"color":"#fff"},{"offset":0.05,"color":"#3cf"},{"offset":0.1,"color":"#3cf"},{"offset":0.1,"color":"#fff"},{"offset":0.15,"color":"#fff"},{"offset":0.15,"color":"#3cf"},{"offset":0.2,"color":"#3cf"},{"offset":0.2,"color":"#fff"},{"offset":0.25,"color":"#fff"},{"offset":0.25,"color":"#3cf"},{"offset":0.3,"color":"#3cf"},{"offset":0.3,"color":"#fff"},{"offset":0.35,"color":"#fff"},{"offset":0.35,"color":"#3cf"},{"offset":0.4,"color":"#3cf"},{"offset":0.4,"color":"#fff"},{"offset":0.45,"color":"#fff"},{"offset":0.45,"color":"#3cf"},{"offset":0.5,"color":"#3cf"},{"offset":0.5,"color":"#fff"},{"offset":0.55,"color":"#fff"},{"offset":0.55,"color":"#3cf"},{"offset":0.6,"color":"#3cf"},{"offset":0.6,"color":"#fff"},{"offset":0.65,"color":"#fff"},{"offset":0.65,"color":"#3cf"},{"offset":0.7,"color":"#3cf"},{"offset":0.7,"color":"#fff"},{"offset":0.75,"color":"#fff"},{"offset":0.75,"color":"#3cf"},{"offset":0.8,"color":"#3cf"},{"offset":0.8,"color":"#fff"},{"offset":0.85,"color":"#fff"},{"offset":0.85,"color":"#3cf"},{"offset":0.9,"color":"#3cf"},{"offset":0.9,"color":"#fff"},{"offset":0.95,"color":"#fff"},{"offset":0.95,"color":"#3cf"},{"offset":1,"color":"#3cf"}]}}],
"value":{"gradient":"linear","x1":0,"y1":1,"x2":0.5981,"y2":-0.2003,"stops":[{"offset":0,"color":"#fff"},{"offset":0.0385,"color":"#fff"},{"offset":0.0385,"color":"#3cf"},{"offset":0.0769,"color":"#3cf"},{"offset":0.0769,"color":"#fff"},{"offset":0.1154,"color":"#fff"},{"offset":0.1154,"color":"#3cf"},{"offset":0.1538,"color":"#3cf"},{"offset":0.1538,"color":"#fff"},{"offset":0.1923,"color":"#fff"},{"offset":0.1923,"color":"#3cf"},{"offset":0.2308,"color":"#3cf"},{"offset":0.2308,"color":"#fff"},{"offset":0.2692,"color":"#fff"},{"offset":0.2692,"color":"#3cf"},{"offset":0.3077,"color":"#3cf"},{"offset":0.3077,"color":"#fff"},{"offset":0.3462,"color":"#fff"},{"offset":0.3462,"color":"#3cf"},{"offset":0.3846,"color":"#3cf"},{"offset":0.3846,"color":"#fff"},{"offset":0.4231,"color":"#fff"},{"offset":0.4231,"color":"#3cf"},{"offset":0.4615,"color":"#3cf"},{"offset":0.4615,"color":"#fff"},{"offset":0.5,"color":"#fff"},{"offset":0.5,"color":"#3cf"},{"offset":0.5385,"color":"#3cf"},{"offset":0.5385,"color":"#fff"},{"offset":0.5769,"color":"#fff"},{"offset":0.5769,"color":"#3cf"},{"offset":0.6154,"color":"#3cf"},{"offset":0.6154,"color":"#fff"},{"offset":0.6538,"color":"#fff"},{"offset":0.6538,"color":"#3cf"},{"offset":0.6923,"color":"#3cf"},{"offset":0.6923,"color":"#fff"},{"offset":0.7308,"color":"#fff"},{"offset":0.7308,"color":"#3cf"},{"offset":0.7692,"color":"#3cf"},{"offset":0.7692,"color":"#fff"},{"offset":0.8077,"color":"#fff"},{"offset":0.8077,"color":"#3cf"},{"offset":0.8462,"color":"#3cf"},{"offset":0.8462,"color":"#fff"},{"offset":0.8846,"color":"#fff"},{"offset":0.8846,"color":"#3cf"},{"offset":0.9231,"color":"#3cf"},{"offset":0.9231,"color":"#fff"},{"offset":0.9615,"color":"#fff"},{"offset":0.9615,"color":"#3cf"},{"offset":1,"color":"#3cf"}]}}}},
{"data":{"name":"boxes"},"transform":[{"filter":"datum.panel=='Pb' && isValid(datum.lo)"}],"mark":{"type":"rule","strokeWidth":1.5,"color":"#2a2a2a"},"encoding":{"x":{"field":"pos","type":"quantitative","scale":{"domain":[0,6],"range":[889.5,1447.5],"nice":false,"zero":false},"axis":null},"y":{"field":"lo","type":"quantitative","scale":{"type":"log","domain":[1,10000],"range":[752.5,486.5],"nice":false},"axis":{"orient":"left","offset":-889.5,"values":[2,3,4,5,6,7,8,9,20,30,40,50,60,70,80,90,200,300,400,500,600,700,800,900,2000,3000,4000,5000,6000,7000,8000,9000],"labels":false,"domain":false,"ticks":true,"tickSize":-5,"tickWidth":1.2,"tickColor":"#2a2a2a","title":null}},"y2":{"field":"hi"}}},
{"data":{"name":"boxes"},"transform":[{"filter":"datum.panel=='Pb'"}],"mark":{"type":"tick","orient":"horizontal","thickness":2,"color":"#1a1a1a"},"encoding":{"x":{"field":"pos","type":"quantitative","scale":{"domain":[0,6],"range":[889.5,1447.5],"nice":false,"zero":false},"axis":null},"y":{"field":"med","type":"quantitative","scale":{"type":"log","domain":[1,10000],"range":[752.5,486.5],"nice":false},"axis":{"orient":"right","offset":-49,"values":[1,10,100,1000,10000],"labels":false,"domain":false,"ticks":true,"tickSize":-9,"tickWidth":1.4,"tickColor":"#2a2a2a","title":null}},"size":{"condition":{"test":"datum.grp=='Sediment'","value":25},"value":29}}},
{"data":{"name":"pts"},"transform":[{"filter":"datum.panel=='Pb'"}],"mark":{"type":"point","shape":"circle","filled":true,"size":48,"strokeWidth":1.3},"encoding":{"x":{"field":"pos","type":"quantitative","scale":{"domain":[0,6],"range":[889.5,1447.5],"nice":false,"zero":false},"axis":null},"y":{"field":"v","type":"quantitative","scale":{"type":"log","domain":[1,10000],"range":[752.5,486.5],"nice":false},"axis":{"orient":"right","offset":-49,"values":[2,3,4,5,6,7,8,9,20,30,40,50,60,70,80,90,200,300,400,500,600,700,800,900,2000,3000,4000,5000,6000,7000,8000,9000],"labels":false,"domain":false,"ticks":true,"tickSize":-5,"tickWidth":1.2,"tickColor":"#2a2a2a","title":null}},"fill":{"condition":[{"test":"datum.nd==1","value":"#ffffff"},{"test":"datum.grp=='Sediment'","value":"#b3b3b3"}],"value":"#00d4ff"},"stroke":{"condition":{"test":"datum.grp=='Sediment'","value":"#b3b3b3"},"value":"#00d4ff"}}}
]
}
